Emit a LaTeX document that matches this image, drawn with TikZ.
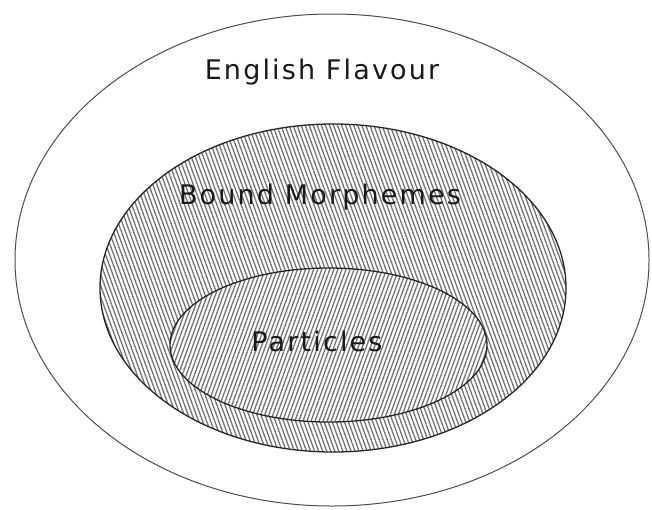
\documentclass[tikz,border=0pt]{standalone}
\usepackage{fontspec}
\setmainfont{DejaVu Sans}
\usetikzlibrary{shapes.geometric,patterns.meta}
\tikzset{
  set/.style={ellipse, inner sep=0pt, outer sep=0pt},
  outerset/.style={set, draw=black!70, line width=1pt},
  hatchA/.style={set, draw=black!85, line width=1.3pt, preaction={fill=white},
    pattern={Lines[angle=-70, distance=3.8pt, line width=1.3pt]}, pattern color=black!55},
  hatchB/.style={set, draw=black!85, line width=1.3pt, preaction={fill=white},
    pattern={Lines[angle=70, distance=3.8pt, line width=1.3pt]}, pattern color=black!55},
  lbl/.style={font=\fontsize{27}{30}\selectfont\addfontfeature{LetterSpace=8}, text=black!90, inner sep=0pt},
}
\begin{document}
\begin{tikzpicture}[x=1pt, y=-1pt]
\useasboundingbox (0,0) rectangle (652,509);
\node[outerset, minimum width=634pt, minimum height=492pt] (outer) at (332,260) {};
\node[hatchA, minimum width=466pt, minimum height=328pt] (bound) at (333,288) {};
\node[hatchB, minimum width=317pt, minimum height=154pt] (part) at (328.5,345) {};
\node[lbl] (t1) at (322,72) {English Flavour};
\node[lbl] (t2) at (320,197) {Bound Morphemes};
\node[lbl] (t3) at (317,341) {Particles};
\end{tikzpicture}
\end{document}
